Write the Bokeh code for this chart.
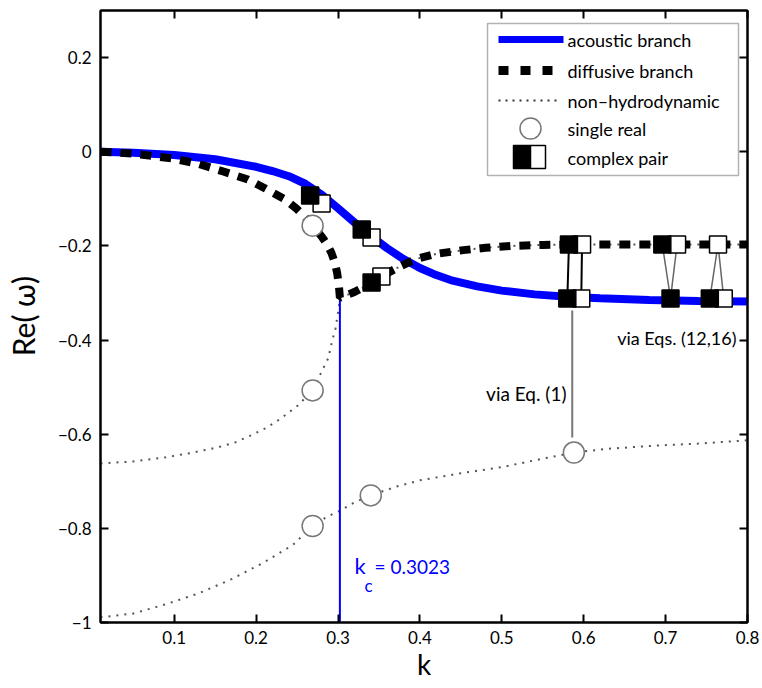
from bokeh.plotting import figure
from bokeh.models import Range1d, LinearAxis, FixedTicker, Label, BoxAnnotation
from bokeh.embed import file_html
from bokeh.resources import INLINE

# ---------------- data ----------------
x_ticks = [0.1, 0.2, 0.3, 0.4, 0.5, 0.6, 0.7, 0.8]
x_tick_labels = ["0.1", "0.2", "0.3", "0.4", "0.5", "0.6", "0.7", "0.8"]
y_ticks = [-1.0, -0.8, -0.6, -0.4, -0.2, 0.0, 0.2]
y_tick_labels = ["\u22121", "\u22120.8", "\u22120.6", "\u22120.4", "\u22120.2", "0", "0.2"]

acoustic_k = [0.01, 0.05, 0.10, 0.15, 0.20, 0.22, 0.24, 0.26, 0.28, 0.30, 0.32, 0.34, 0.36,
              0.38, 0.40, 0.42, 0.44, 0.47, 0.50, 0.54, 0.58, 0.62, 0.68, 0.74, 0.80]
acoustic_re = [0.0, -0.002, -0.007, -0.016, -0.032, -0.041, -0.052, -0.068, -0.091, -0.120,
               -0.150, -0.179, -0.205, -0.228, -0.247, -0.262, -0.274, -0.286, -0.295,
               -0.303, -0.308, -0.311, -0.315, -0.317, -0.318]

diffusive_left_k = [0.01, 0.05, 0.10, 0.13, 0.16, 0.19, 0.21, 0.235, 0.25, 0.26, 0.27,
                    0.28, 0.287, 0.292, 0.296, 0.299, 0.301, 0.3023]
diffusive_left_re = [0.0, -0.004, -0.015, -0.026, -0.042, -0.059, -0.077, -0.101, -0.122,
                     -0.139, -0.159, -0.180, -0.198, -0.215, -0.235, -0.258, -0.283, -0.310]
diffusive_right_k = [0.3023, 0.31, 0.32, 0.33, 0.34, 0.35, 0.36, 0.373, 0.385, 0.397, 0.42,
                     0.453, 0.48, 0.514, 0.55, 0.60, 0.70, 0.80]
diffusive_right_re = [-0.310, -0.305, -0.298, -0.289, -0.279, -0.268, -0.258, -0.246, -0.236,
                      -0.227, -0.217, -0.209, -0.204, -0.200, -0.198, -0.197, -0.197, -0.197]

nonhydro_a_k = [0.01, 0.05, 0.09, 0.12, 0.153, 0.175, 0.193, 0.212, 0.23, 0.251, 0.269,
                0.282, 0.288, 0.293, 0.297, 0.299, 0.301, 0.3023]
nonhydro_a_re = [-0.662, -0.658, -0.649, -0.640, -0.628, -0.617, -0.603, -0.587, -0.567,
                 -0.539, -0.507, -0.460, -0.439, -0.401, -0.375, -0.352, -0.333, -0.310]
nonhydro_b_k = [0.01, 0.05, 0.09, 0.13, 0.17, 0.21, 0.245, 0.269, 0.287, 0.303, 0.32, 0.34,
                0.37, 0.40, 0.45, 0.50, 0.55, 0.588, 0.63, 0.68, 0.74, 0.80]
nonhydro_b_re = [-0.989, -0.981, -0.961, -0.938, -0.908, -0.872, -0.835, -0.795, -0.775,
                 -0.762, -0.745, -0.730, -0.712, -0.698, -0.683, -0.670, -0.652, -0.639,
                 -0.631, -0.625, -0.620, -0.613]

single_real_k = [0.269, 0.269, 0.269, 0.340, 0.588]
single_real_re = [-0.157, -0.507, -0.795, -0.730, -0.639]

pair_black_k = [0.266, 0.329, 0.341, 0.582, 0.580, 0.696, 0.706, 0.754]
pair_black_re = [-0.093, -0.165, -0.278, -0.197, -0.312, -0.197, -0.312, -0.312]
pair_white_k = [0.280, 0.341, 0.353, 0.598, 0.597, 0.714, 0.764, 0.771]
pair_white_re = [-0.110, -0.182, -0.265, -0.197, -0.312, -0.197, -0.197, -0.312]

# links between pairs obtained via Eq. (1) and via Eqs. (12,16)
link_dark_k0 = [0.582, 0.598]
link_dark_re0 = [-0.197, -0.197]
link_dark_k1 = [0.580, 0.597]
link_dark_re1 = [-0.312, -0.312]
link_grey_k0 = [0.696, 0.714, 0.764, 0.764]
link_grey_re0 = [-0.197, -0.197, -0.197, -0.197]
link_grey_k1 = [0.706, 0.706, 0.754, 0.771]
link_grey_re1 = [-0.312, -0.312, -0.312, -0.312]
eq1_link_k = [0.586, 0.586]
eq1_link_re = [-0.337, -0.607]

k_c = 0.3023
k_c_re = [-1.0, -0.310]

# ---------------- figure ----------------
FONT = "Lato"
X0, X1 = 0.01, 0.8
Y0, Y1 = -1.0, 0.3
FL, FR, FT, FB = 100, 747, 10, 622


def dx(px):
    return X0 + (px - FL) / (FR - FL) * (X1 - X0)


def dy(py):
    return Y1 - (py - FT) / (FB - FT) * (Y1 - Y0)


p = figure(width=762, height=688, x_range=Range1d(X0, X1), y_range=Range1d(Y0, Y1),
           output_backend="svg", toolbar_location=None,
           min_border_left=FL, min_border_right=762 - FR, min_border_top=FT,
           min_border_bottom=688 - FB)
p.grid.visible = False
p.outline_line_color = "black"
p.outline_line_width = 2
p.background_fill_color = "white"
p.border_fill_color = "white"

xa = p.xaxis[0]
ya = p.yaxis[0]
xa.ticker = FixedTicker(ticks=x_ticks)
ya.ticker = FixedTicker(ticks=y_ticks)
xa.major_label_overrides = dict(zip(x_ticks, x_tick_labels))
ya.major_label_overrides = dict(zip(y_ticks, y_tick_labels))
for ax in (xa, ya):
    ax.major_tick_in = 8
    ax.major_tick_out = 0
    ax.minor_tick_line_color = None
    ax.axis_line_width = 2
    ax.major_tick_line_width = 2
    ax.major_label_text_font = FONT
    ax.major_label_text_font_size = "17px"
    ax.major_label_text_color = "black"
    ax.axis_label_text_font = FONT
    ax.axis_label_text_font_style = "normal"
    ax.axis_label_text_color = "black"
xa.major_label_standoff = 8
ya.major_label_standoff = 9
xa.axis_label = "k"
xa.axis_label_text_font_size = "28px"
xa.axis_label_standoff = 0
ya.axis_label = "Re( \u03c9)"
ya.axis_label_text_font_size = "30px"
ya.axis_label_standoff = 14

for ticks, loc in ((y_ticks, "right"), (x_ticks, "above")):
    ax = LinearAxis(ticker=FixedTicker(ticks=ticks),
                    major_label_overrides={t: "" for t in ticks},
                    major_label_text_font_size="0px", major_label_standoff=0,
                    major_tick_in=8, major_tick_out=0, minor_tick_line_color=None,
                    axis_line_width=2, major_tick_line_width=2)
    p.add_layout(ax, loc)

# curves
GREY_DOT = "#555555"
p.line(nonhydro_a_k, nonhydro_a_re, line_color=GREY_DOT, line_width=2, line_dash="2 6")
p.line(diffusive_right_k, diffusive_right_re, line_color=GREY_DOT, line_width=2, line_dash="2 6")
p.line(nonhydro_b_k, nonhydro_b_re, line_color=GREY_DOT, line_width=2, line_dash="2 6")
p.line([k_c, k_c], k_c_re, line_color="#0000ff", line_width=2)
p.line(acoustic_k, acoustic_re, line_color="#0000ff", line_width=8)
p.line(diffusive_left_k + diffusive_right_k[1:], diffusive_left_re + diffusive_right_re[1:],
       line_color="black", line_width=8, line_dash="11 9")

# links
p.segment(link_dark_k0, link_dark_re0, link_dark_k1, link_dark_re1, line_color="black", line_width=2)
p.segment(link_grey_k0, link_grey_re0, link_grey_k1, link_grey_re1, line_color="#666666", line_width=1.5)
p.line(eq1_link_k, eq1_link_re, line_color="#777777", line_width=2)

# markers
p.scatter(single_real_k, single_real_re, marker="circle", size=21, fill_color="white",
          line_color="#777777", line_width=1.5)
p.scatter(pair_white_k, pair_white_re, marker="square", size=17, fill_color="white",
          line_color="black", line_width=1.5)
p.scatter(pair_black_k, pair_black_re, marker="square", size=17, fill_color="black",
          line_color="black", line_width=1.5)

# annotations
for txt, px, py, size in (("via Eq. (1)", 566, 393, "19px"),
                          ("via Eqs. (12,16)", 736, 337, "18px")):
    p.add_layout(Label(x=dx(px), y=dy(py), text=txt, text_font=FONT, text_font_size=size,
                       text_align="right", text_baseline="middle", text_color="black"))
p.add_layout(Label(x=dx(354), y=dy(565), text="k", text_font=FONT, text_font_size="22px",
                   text_align="left", text_baseline="middle", text_color="#0000ff"))
p.add_layout(Label(x=dx(364), y=dy(585), text="c", text_font=FONT, text_font_size="17px",
                   text_align="left", text_baseline="middle", text_color="#0000ff"))
p.add_layout(Label(x=dx(374), y=dy(566), text="= 0.3023", text_font=FONT, text_font_size="19px",
                   text_align="left", text_baseline="middle", text_color="#0000ff"))

# legend (drawn in the empty upper-right corner)
p.add_layout(BoxAnnotation(left=dx(487), right=dx(738), top=dy(23), bottom=dy(175),
                           fill_color="white", fill_alpha=1.0, line_color="black",
                           line_width=1.5, level="underlay"))
rows = [39, 70, 100, 128, 157]
p.line([dx(498), dx(563)], [dy(rows[0])] * 2, line_color="#0000ff", line_width=7)
p.line([dx(498), dx(558)], [dy(rows[1])] * 2, line_color="black", line_width=9, line_dash="10 12")
p.line([dx(498), dx(557)], [dy(rows[2])] * 2, line_color="#333333", line_width=2, line_dash="2 5")
p.scatter([dx(530)], [dy(rows[3])], marker="circle", size=21, fill_color="white",
          line_color="#777777", line_width=1.5)
p.quad(left=[dx(513)], right=[dx(530)], top=[dy(145)], bottom=[dy(168)],
       fill_color="black", line_color="black", line_width=1.5)
p.quad(left=[dx(530)], right=[dx(545)], top=[dy(145)], bottom=[dy(168)],
       fill_color="white", line_color="black", line_width=1.5)
legend_labels = ["acoustic branch", "diffusive branch", "non\u2013hydrodynamic", "single real",
                 "complex pair"]
for lab, ry in zip(legend_labels, rows):
    p.add_layout(Label(x=dx(567), y=dy(ry), text=lab, text_font=FONT, text_font_size="18px",
                       text_align="left", text_baseline="middle", text_color="black"))

open("out.html", "w").write(file_html(p, INLINE))
